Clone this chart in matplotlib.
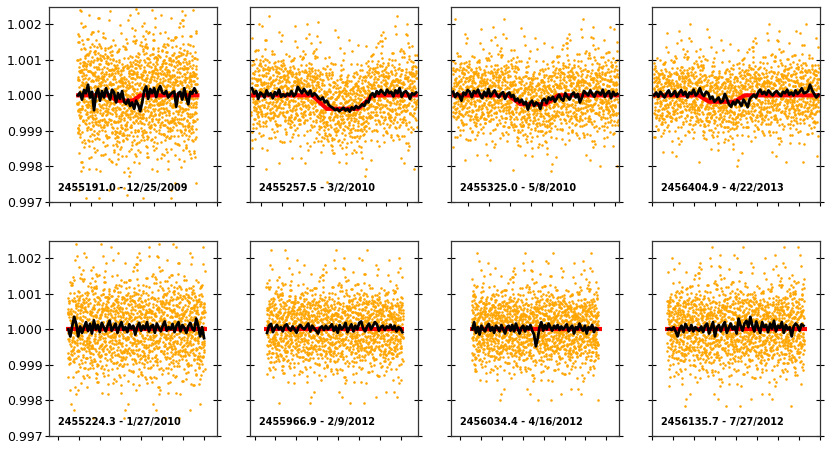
import numpy as np
import matplotlib
matplotlib.use("Agg")
import matplotlib.pyplot as plt
from matplotlib.ticker import FormatStrFormatter, MultipleLocator

# ---------------- data ----------------
labels = ["2455191.0 - 12/25/2009", "2455257.5 - 3/2/2010", "2455325.0 - 5/8/2010",
          "2456404.9 - 4/22/2013", "2455224.3 - 1/27/2010", "2455966.9 - 2/9/2012",
          "2456034.4 - 4/16/2012", "2456135.7 - 7/27/2012"]

# x-axis limits (hours from predicted mid-transit)
xlims = [(-4.0, 4.0), (-4.5, 3.5), (-4.8, 3.2), (-4.0, 4.0),
         (-4.4, 3.6), (-4.2, 3.8), (-4.4, 3.6), (-4.0, 4.0)]

# extent of the observations in each panel
data_ranges = [(-2.66, 3.05), (-4.45, 3.45), (-4.75, 3.15), (-3.95, 3.95),
               (-3.52, 3.02), (-3.43, 3.09), (-3.43, 2.61), (-3.30, 3.24)]

# transit model knots (hours, ppm)
model_x = [[-2.72, -1.10, -0.80, 0.00, 0.34, 3.17],
           [-4.50, -1.55, -0.85, 0.65, 1.35, 3.50],
           [-4.80, -2.10, -1.50, -0.30, 0.30, 3.20],
           [-4.00, -1.80, -1.30, -0.10, 0.40, 4.00],
           [-3.60, 3.13],
           [-3.53, 3.16],
           [-3.52, 2.78],
           [-3.39, 3.37]]
model_ppm = [[0, 0, -150, -150, 0, 0],
             [0, 0, -380, -380, 0, 0],
             [0, 0, -250, -250, 0, 0],
             [0, 0, -180, -180, 0, 0],
             [0, 0], [0, 0], [0, 0], [0, 0]]

# scatter of individual points (relative flux sigma)
scatter_sigma = [0.0007, 0.0005, 0.00048, 0.00045, 0.0006, 0.0005, 0.00048, 0.00052]

noise_levels = np.array("""
47.3 62.8 38.1 55.6 71.4 44.9 29.2 58.7 51.5 36.0 63.3 49.8 80.6 42.4 57.1 25.7 53.9 46.2 68.5 40.8
54.4 33.7 61.0 48.6 75.2 39.9 52.3 66.8 43.1 57.5 12.6 50.2 64.9 37.3 45.8 59.0 70.4 41.7 56.2 31.5
49.1 67.6 35.4 60.9 44.2 52.7 27.8 58.3 46.6 73.0 40.5 55.1 62.2 38.8 50.4 86.3 43.9 57.7 34.3 65.0
41.6 53.2 69.9 47.8 30.1 56.5 63.7 45.0 51.8 39.4 78.2 48.3 59.6 36.9 54.0 22.5 61.4 44.6 50.9 67.1
58.2 42.7 37.5 64.1 49.4 55.9 72.6 33.0 46.8 60.3 52.1 40.2 66.5 28.9 57.8 45.3 62.6 35.7 53.5 48.0
39.3 61.7 50.6 44.0 82.4 56.9 34.8 59.2 47.5 65.6 41.1 53.8 26.3 68.2 43.6 51.2 58.9 37.0 63.5 46.4
55.0 30.6 48.9 62.4 41.8 57.3 45.6 70.1 38.4 52.9 64.5 35.2 49.7 60.6 18.3 54.8 42.1 67.9 50.0 44.5
63.9 47.1 56.7 32.4 59.5 43.3 51.0 74.7 40.0 58.4 46.0 61.9 37.6 55.3 49.2 24.1 65.3 42.9 53.6 39.7
45.5 68.8 52.6 41.3 57.9 36.2 63.1 48.5 79.3 44.8 54.7 31.9 60.0 47.4 56.4 40.6 51.7 66.2 38.5 59.8
50.8 35.1 62.5 46.3 55.4 71.7 42.2 58.0 27.4 53.3 45.9 64.4 39.0 57.2 48.8 61.1 33.6 52.0 90.2 43.4
57.6 49.0 40.7 65.8 37.9 54.2 46.9 60.7 51.4 29.6 63.0 44.3 56.8 38.2 69.5 47.7 53.1 41.9 58.6 34.9
42.0 59.3 53.7 76.4 45.2 50.5 36.6 62.0 48.1 55.8 40.9 67.3 31.2 57.4 44.7 52.5 61.6 39.5 54.9 47.9
60.5 38.3 51.9 45.7 64.6 33.8 56.0 49.6 58.8 23.2 46.5 61.3 53.0 42.6 72.3 50.7 37.8 55.5 43.0 63.8
48.4 55.2 41.5 58.1 30.8 62.7 47.0 53.4 66.0 40.3 57.0 45.1 51.6 85.0 36.4 59.7 44.1 60.2 49.5 52.8
35.9 61.2 46.7 54.6 43.7 68.0 39.1 56.3 50.1 62.9 28.2 48.7 59.4 41.2 55.7 64.2 45.4 52.2 38.6 57.6
53.9 44.4 70.8 37.2 51.3 58.5 42.8 63.6 47.2 34.5 56.1 49.3 61.5 40.4 15.8 54.3 46.1 67.4 43.5 59.1
46.9 57.5 39.8 52.4 65.2 45.8 60.4 32.7 55.1 48.2 71.0 41.4 53.7 58.3 37.4 50.3 62.3 44.2 56.6 26.9
61.8 40.1 54.5 47.6 59.9 36.7 51.1 64.8 43.8 57.0 49.9 77.5 38.9 52.6 45.0 60.8 33.3 55.6 48.5 63.2
44.9 56.4 62.1 35.6 50.2 47.3 58.6 41.0 68.6 53.5 39.2 55.0 46.4 29.9 61.9 51.5 42.3 65.5 57.1 48.9
52.1 37.7 49.4 60.1 43.2 55.3 81.1 46.6 58.2 40.6 63.4 50.6 34.1 56.9 44.0 59.6 47.6 73.4 41.6 54.1
""".split(), dtype=float)
# reading order (row / column of the table above) and start of each interleaved exposure
pass_column_major = [False, True, False, True]
pass_offsets = [0, 130, 210, 290]

# binned light curves (ppm relative to 1)
binned_ppm = [
    [0, 80, -120, 150, 60, 300, -60, 100, -420, 50, 180, -150, 120, -60, 200, 40, -120, 160, 80, -200,
     60, -100, 120, -180, -240, -120, -300, -200, -380, -150, -260, -450, -200, 120, 250, -100, 180, 60,
     200, -50, 150, 260, 80, 40, 120, -60, 20, 80, 110, -320, 60, 100, -120, 200, -60, -250, 100, 50, 200, 80],
    [200, 50, 120, -100, 80, 30, -60, 140, 0, 60, -80, 90, 20, 160, -40, 30, -30, 50, 0, 120, -20, 40,
     240, 150, 60, 180, 90, 20, 140, -20, 60, 0, -80, -120, -60, -200, -150, -280, -320, -360, -420, -380,
     -450, -400, -350, -430, -380, -460, -340, -400, -300, -360, -320, -250, -300, -160, -200, 0, 60, -40,
     120, 40, 150, 80, 20, 160, 60, 100, -30, 140, 60, 200, -40, 80, 120, 40, -100, 60, 20, 80],
    [100, -50, 60, 0, -150, 80, 20, 150, 100, -50, 120, 60, 160, 20, -80, 100, -20, 180, -30, 60, 140, 20,
     -60, 40, 90, -100, 30, 80, -40, 10, -160, -90, -200, -120, -250, -180, -400, -220, -150, -300, -200,
     -250, -380, -150, -100, -220, -60, -120, -40, -180, -80, 20, -100, -150, 60, -40, -120, 20, 80, -60,
     40, -200, -60, 120, 60, 0, 140, 40, -40, 100, 80, 20, 160, -40, 60, 120, -80, 100, 0, 40],
    [0, 80, -40, 100, 20, -60, 60, 140, -20, 40, 120, -40, 60, 150, 20, 100, -60, 80, 40, 160, 0, 60, 200,
     40, -20, 100, 60, -100, -40, -180, -120, -60, -200, -160, 40, -100, -250, -320, -180, -260, -140, -200,
     -300, -120, -220, -330, -100, -40, 20, -60, 80, 160, 40, 100, 20, 140, 60, 0, 80, 120, 40, -20, 100,
     60, 160, 20, 80, 0, 140, 40, 100, 200, 60, 80, 120, 300, 140, 40, -60, 20],
    [0, -200, 100, 350, 150, -200, 80, -100, 60, 200, -50, 150, -120, 250, 0, 120, -80, 180, 60, -60, 100,
     240, -40, 50, 160, -100, 80, 200, -20, 60, -80, 140, 20, 100, -150, 60, 180, -40, 100, 0, 200, -60, 80,
     120, -100, 160, 40, -60, 100, 220, -40, 60, 0, 150, -80, 100, 200, -60, 120, 40, -100, 80, 180, 20,
     -40, 300, 100, -200, 60, -250],
    [-100, 100, 150, -80, 40, 120, 0, 60, -60, 100, 140, 20, -40, 80, 0, -100, 60, 120, 40, 0, 80, 160, -60,
     100, 20, -40, -120, 40, 80, -20, 100, 0, 60, 140, -40, 80, -100, 120, 0, 60, 180, -80, 40, 140, -60,
     100, 0, 180, 220, 20, -60, 80, 160, 0, 100, 200, 140, -40, 60, 100, -20, 80, 40, 120, 0, 100, -60, 60,
     20, -80],
    [0, 200, -100, 60, -150, 100, 0, -60, 80, 150, -40, 60, -100, 100, 40, -60, 120, 0, -120, 60, 100, -40,
     120, -60, 160, 20, -120, 40, 100, -60, 80, 0, 120, -40, -150, -480, -260, 60, 200, -40, 120, 0, 160, 60,
     -40, 100, 20, 120, -20, 80, 0, 60, 140, -60, 40, 100, -120, 60, 0, 160, 40, -40, 100, -120, 60, 0, 120,
     -80, 40, 0],
    [0, 20, -20, 60, -60, -200, 0, 100, -80, 150, 40, -40, 120, -60, 60, 0, -40, 80, -80, 100, 160, -120, 40,
     200, -200, 60, 120, -60, 100, 200, -100, 40, 160, 0, 80, -120, 300, 100, -40, 160, 240, 60, 350, 100,
     -60, 220, 40, -100, 200, 60, 120, -80, 160, 20, 240, -60, 100, 40, 200, -100, 120, 0, 60, -200, 80, 160,
     100, -40, 140, 100],
]

yticks = [0.997, 0.998, 0.999, 1.000, 1.001, 1.002]

# ---------------- plot ----------------
fig, axes = plt.subplots(2, 4, figsize=(8.31, 4.5), dpi=100)
fig.subplots_adjust(left=0.0593, right=0.9868, top=0.985, bottom=0.032, wspace=0.2, hspace=0.2)

n = len(noise_levels)
row_major = noise_levels
col_major = noise_levels.reshape(20, 20).T.ravel()
npass = len(pass_offsets)
for i, ax in enumerate(axes.flat):
    mx = np.array(model_x[i])
    my = np.array(model_ppm[i]) * 1e-6
    x0, x1 = data_ranges[i]
    step = (x1 - x0) / (n - 1)
    for k in range(npass):
        xs = np.linspace(x0, x1, n) + k * step / npass
        src = col_major if pass_column_major[k] else row_major
        lv = np.roll(src, -(pass_offsets[k] + 37 * i))
        keep = xs <= x1
        xs, lv = xs[keep], lv[keep]
        ys = 1.0 + np.interp(xs, mx, my) + scatter_sigma[i] * (lv - 50.0) / 9.0
        ax.scatter(xs, ys, s=3.4, c="#FFA500", marker="o", linewidths=0, zorder=1)

    ax.plot(mx, 1.0 + my, color="red", lw=3.0, zorder=2, solid_capstyle="butt")

    b = np.array(binned_ppm[i]) * 1e-6
    bx = np.linspace(x0 + 0.03, x1 - 0.03, len(b))
    ax.plot(bx, 1.0 + b, color="black", lw=2.0, zorder=3)

    ax.set_xlim(*xlims[i])
    ax.set_ylim(0.997, 1.0025)
    ax.set_yticks(yticks)
    ax.yaxis.set_major_formatter(FormatStrFormatter("%.3f"))
    ax.xaxis.set_major_locator(MultipleLocator(1.0))
    ax.tick_params(axis="x", direction="out", length=3, width=0.8, labelbottom=False)
    ax.tick_params(axis="y", which="both", direction="inout", length=5.5, width=0.8,
                   left=True, right=True, labelsize=9, pad=2)
    if i % 4 != 0:
        ax.tick_params(axis="y", labelleft=False)
    for sp in ax.spines.values():
        sp.set_linewidth(0.9)
        sp.set_color("#333333")
    ax.text(0.05, 0.045, labels[i], transform=ax.transAxes, fontsize=7,
            fontweight="bold", ha="left", va="bottom", zorder=5)

fig.savefig("out.png", dpi=100)
